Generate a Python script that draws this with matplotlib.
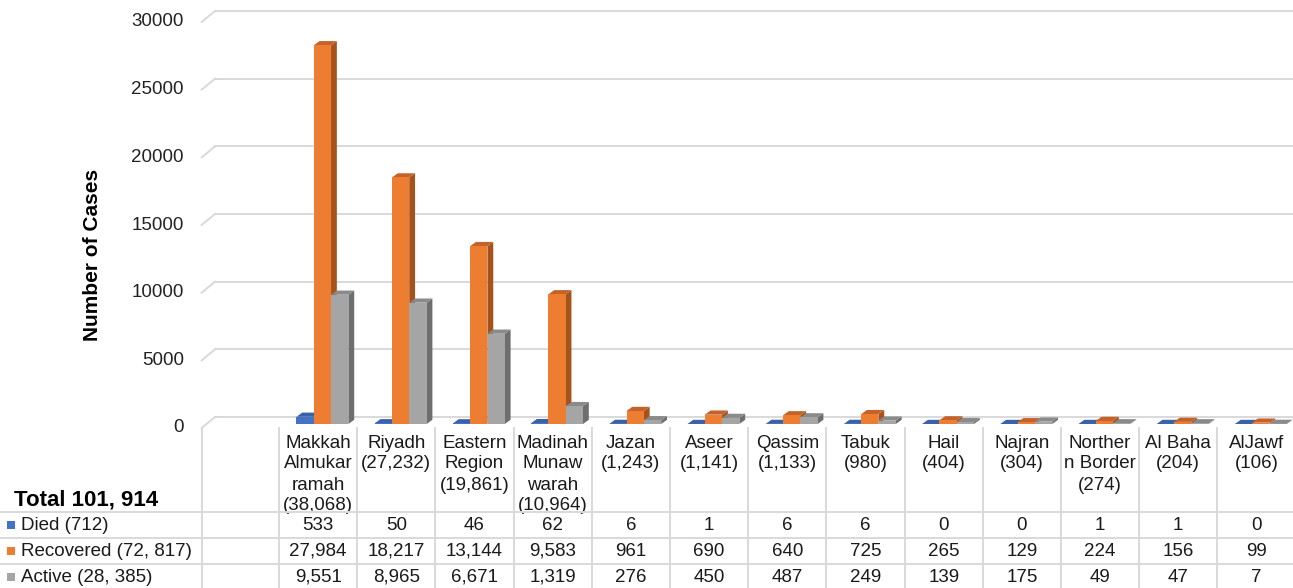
import numpy as np
import matplotlib
matplotlib.use("Agg")
import matplotlib.pyplot as plt
from matplotlib.patches import Rectangle, Polygon
from matplotlib.transforms import Affine2D, blended_transform_factory

plt.rcParams['font.family'] = ['Liberation Sans', 'DejaVu Sans']

# regional COVID-19 case counts
regions = ["Makkah\nAlmukar\nramah\n(38,068)", "Riyadh\n(27,232)", "Eastern\nRegion\n(19,861)",
           "Madinah\nMunaw\nwarah\n(10,964)", "Jazan\n(1,243)", "Aseer\n(1,141)", "Qassim\n(1,133)",
           "Tabuk\n(980)", "Hail\n(404)", "Najran\n(304)", "Norther\nn Border\n(274)",
           "Al Baha\n(204)", "AlJawf\n(106)"]
died = [533, 50, 46, 62, 6, 1, 6, 6, 0, 0, 1, 1, 0]
recovered = [27984, 18217, 13144, 9583, 961, 690, 640, 725, 265, 129, 224, 156, 99]
active = [9551, 8965, 6671, 1319, 276, 450, 487, 249, 139, 175, 49, 47, 7]
series_names = ["Died (712)", "Recovered (72, 817)", "Active (28, 385)"]
total_label = "Total 101, 914"
yticks = [0, 5000, 10000, 15000, 20000, 25000, 30000]

W, H = 1293, 588
# face, top and side colours for the pseudo-3D columns
front = ['#4472C4', '#ED7D31', '#A5A5A5']
top = ['#3A62A8', '#C4622A', '#8A8A8A']
side = ['#2F5597', '#A5521B', '#6E6E6E']
txt_c = '#1a1a1a'
fs = 13.5

fig = plt.figure(figsize=(W / 100, H / 100), dpi=100)
px = Affine2D().scale(1 / W, -1 / H).translate(0, 1) + fig.transFigure

col_w = 78.2
x_left = 201.7
x0_data = (x_left - (279 + col_w / 2)) / col_w
x1_data = (W - (279 + col_w / 2)) / col_w
ax = fig.add_axes([x_left / W, (H - 424) / H, 1 - x_left / W, (424 - 18) / H])
ax.set_xlim(x0_data, x1_data)
ax.set_ylim(0, 30000)
ax.axis('off')

PX_X = 1 / col_w
PX_Y = 30000 / 406
xpx_ydata = blended_transform_factory(px, ax.transData)

# gridlines on the back wall plus the slanted side-wall segment
for v in yticks:
    ax.plot([215, W], [v + 7 * PX_Y] * 2, transform=xpx_ydata, color='#D9D9D9',
            lw=1.4, clip_on=False, zorder=1)
    ax.plot([x_left, 215], [v - 4 * PX_Y, v + 7 * PX_Y], transform=xpx_ydata,
            color='#D9D9D9', lw=1.4, clip_on=False, zorder=1)
    ax.text(184, v - 4 * PX_Y, str(v), transform=xpx_ydata, ha='right', va='center',
            fontsize=13.5, color='#222222')

fig.text(92 / W, 1 - 255 / H, "Number of Cases", rotation=90, ha='center', va='center',
         fontsize=15, fontweight='bold')

# columns
width = 0.221
offsets = [-0.166, 0.055, 0.277]
dx, dy = 5.8 * PX_X, 4.2 * PX_Y
for s, vals in enumerate([died, recovered, active]):
    for i, v in enumerate(vals):
        xa = i + offsets[s] - width / 2
        xb = xa + width
        z = 3 + s
        ax.add_patch(Polygon([(xb, 0), (xb + dx, dy), (xb + dx, v + dy), (xb, v)],
                             closed=True, facecolor=side[s], edgecolor='none', zorder=z, clip_on=False))
        ax.add_patch(Polygon([(xa, v), (xb, v), (xb + dx, v + dy), (xa + dx, v + dy)],
                             closed=True, facecolor=top[s], edgecolor='none', zorder=z, clip_on=False))
        ax.add_patch(Rectangle((xa, 0), width, v, facecolor=front[s], edgecolor='none',
                               zorder=z, clip_on=False))

# data table below the chart
grid_c = '#D9D9D9'
xdata_ypx = blended_transform_factory(ax.transData, px)
for y in [512, 538, 564]:
    fig.add_artist(plt.Line2D([0, W], [y, y], transform=px, color=grid_c, lw=1.4))
fig.add_artist(plt.Line2D([x_left, x_left], [428, H], transform=px, color=grid_c, lw=1.4))
for k in range(len(regions)):
    ax.plot([k - 0.5, k - 0.5], [428, H], transform=xdata_ypx, color=grid_c, lw=1.4, clip_on=False)

for i, name in enumerate(regions):
    for j, line in enumerate(name.split("\n")):
        ax.text(i, 443 + 21 * j, line, transform=xdata_ypx, ha='center', va='center',
                fontsize=fs, color=txt_c)

fig.text(14 / W, 1 - 500 / H, total_label, ha='left', va='center', fontsize=16, fontweight='bold')

row_y = [525, 551, 577]
for s, (lab, vals) in enumerate(zip(series_names, [died, recovered, active])):
    fig.add_artist(Rectangle((7, row_y[s] - 4), 8, 8, transform=px, facecolor=front[s], edgecolor='none'))
    fig.text(21 / W, 1 - row_y[s] / H, lab, ha='left', va='center', fontsize=fs, color=txt_c)
    for i, v in enumerate(vals):
        ax.text(i, row_y[s], f"{v:,}", transform=xdata_ypx, ha='center', va='center',
                fontsize=fs, color=txt_c)

plt.savefig('out.png', dpi=100)
